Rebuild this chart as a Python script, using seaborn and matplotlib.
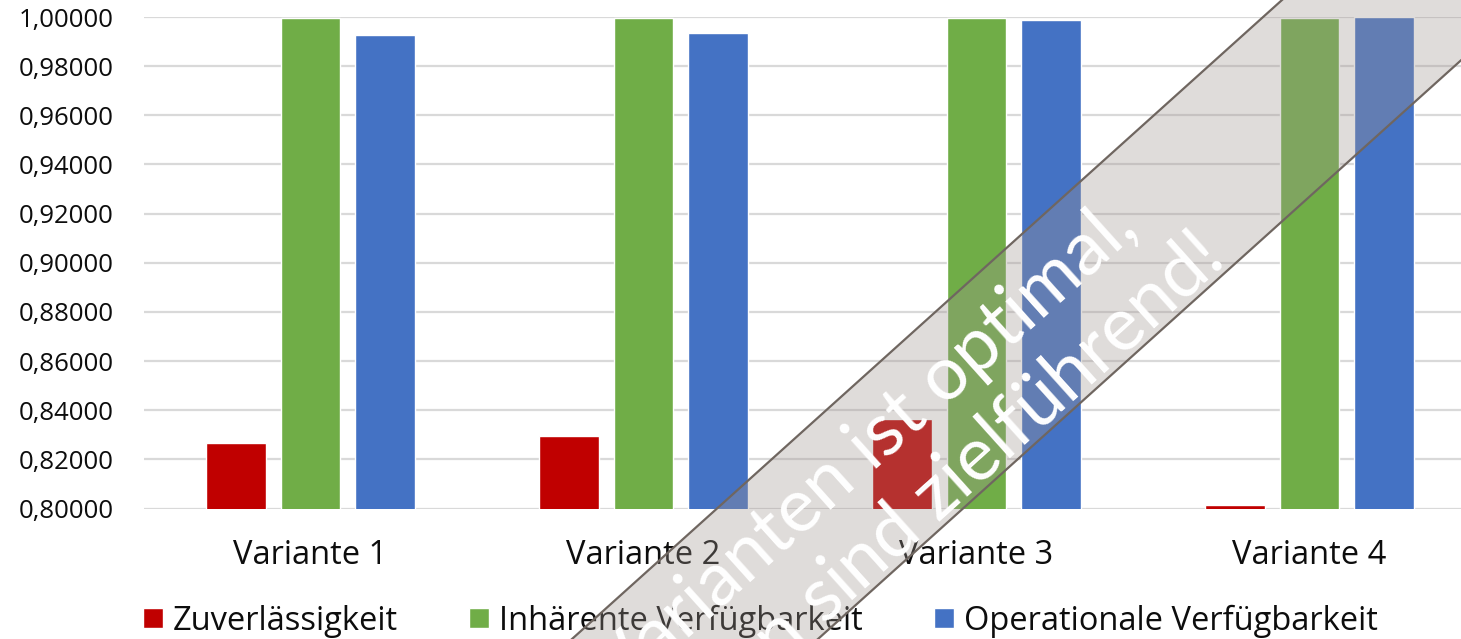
import numpy as np
import pandas as pd
import matplotlib
matplotlib.use('Agg')
import matplotlib.pyplot as plt
import seaborn as sns
from matplotlib.patches import Polygon
from matplotlib.lines import Line2D
from matplotlib.ticker import FuncFormatter, MultipleLocator

variants = ['Variante 1', 'Variante 2', 'Variante 3', 'Variante 4']
series = ['Zuverlässigkeit', 'Inhärente Verfügbarkeit', 'Operationale Verfügbarkeit']
zuverlaessigkeit = [0.8265, 0.8295, 0.8365, 0.8014]
inhaerent = [0.9997, 0.9997, 0.9997, 0.9997]
operational = [0.9928, 0.9936, 0.9986, 0.9998]
colors = ['#C00000', '#70AD47', '#4472C4']

df = pd.DataFrame({
    'Variante': variants * 3,
    'Kennzahl': np.repeat(series, len(variants)),
    'Wert': zuverlaessigkeit + inhaerent + operational,
})

W, H = 1461, 639
sns.set_style('white')
plt.rcParams['font.family'] = ['Open Sans', 'DejaVu Sans']

fig = plt.figure(figsize=(W / 100, H / 100), dpi=100)
fig.patch.set_facecolor('white')
ax = fig.add_axes([144 / W, 1 - 508.5 / H, (1476 - 144) / W, (508.5 - 17) / H])

sns.barplot(data=df, x='Variante', y='Wert', hue='Kennzahl', order=variants,
            hue_order=series, palette=colors, width=0.67, gap=0.2,
            saturation=1, ax=ax, zorder=3)

ax.set_ylim(0.8, 1.0)
ax.set_xlim(-0.5, 3.5)
ax.yaxis.set_major_locator(MultipleLocator(0.02))
ax.yaxis.set_major_formatter(FuncFormatter(lambda v, _: f'{v:.5f}'.replace('.', ',')))
ax.grid(axis='y', color='#D9D9D9', linewidth=1.6, zorder=0)
ax.set_axisbelow(True)
for s in ax.spines.values():
    s.set_visible(False)
ax.tick_params(axis='y', length=0, pad=22, labelsize=18.5, labelcolor='#0D0D0D')
ax.tick_params(axis='x', length=0, pad=22, labelsize=23.5, labelcolor='#0D0D0D')
ax.set_xlabel('')
ax.set_ylabel('')

handles, labels = ax.get_legend_handles_labels()
ax.get_legend().remove()
fig.legend(handles, labels, loc='center left', bbox_to_anchor=(143 / W, 1 - 621 / H),
           ncol=3, frameon=False, fontsize=23.5, borderpad=0, borderaxespad=0,
           handlelength=0.6, handleheight=0.6, handletextpad=0.3,
           columnspacing=2.2, labelcolor='#0D0D0D')

# diagonal banner on top
def px(x, y):
    return (x / W, 1 - y / H)

k = 0.9
y0, y1 = -60, 720
band = [px(1282 - y0 / k, y0), px(1528 - y0 / k, y0), px(1528 - y1 / k, y1), px(1282 - y1 / k, y1)]
fig.add_artist(Polygon(band, closed=True, transform=fig.transFigure,
                       facecolor='#A09691', alpha=0.33, edgecolor='none', zorder=10))
for x_top in (1282, 1528):
    fig.add_artist(Line2D([px(x_top - y0 / k, y0)[0], px(x_top - y1 / k, y1)[0]],
                          [px(0, y0)[1], px(0, y1)[1]], transform=fig.transFigure,
                          color='#6F6660', linewidth=1.6, zorder=11))

ang = np.degrees(np.arctan(k))
fig.text(*px(1140, 232), 'Keine der Varianten ist optimal,', rotation=ang,
         rotation_mode='anchor', ha='right', va='baseline', color='white',
         fontsize=54, family=['Lato', 'DejaVu Sans'], zorder=12)
fig.text(*px(1228, 262), 'Kombinationen sind zielführend!', rotation=ang,
         rotation_mode='anchor', ha='right', va='baseline', color='white',
         fontsize=54, family=['Lato', 'DejaVu Sans'], zorder=12)

fig.savefig('out.png', dpi=100, facecolor='white')
